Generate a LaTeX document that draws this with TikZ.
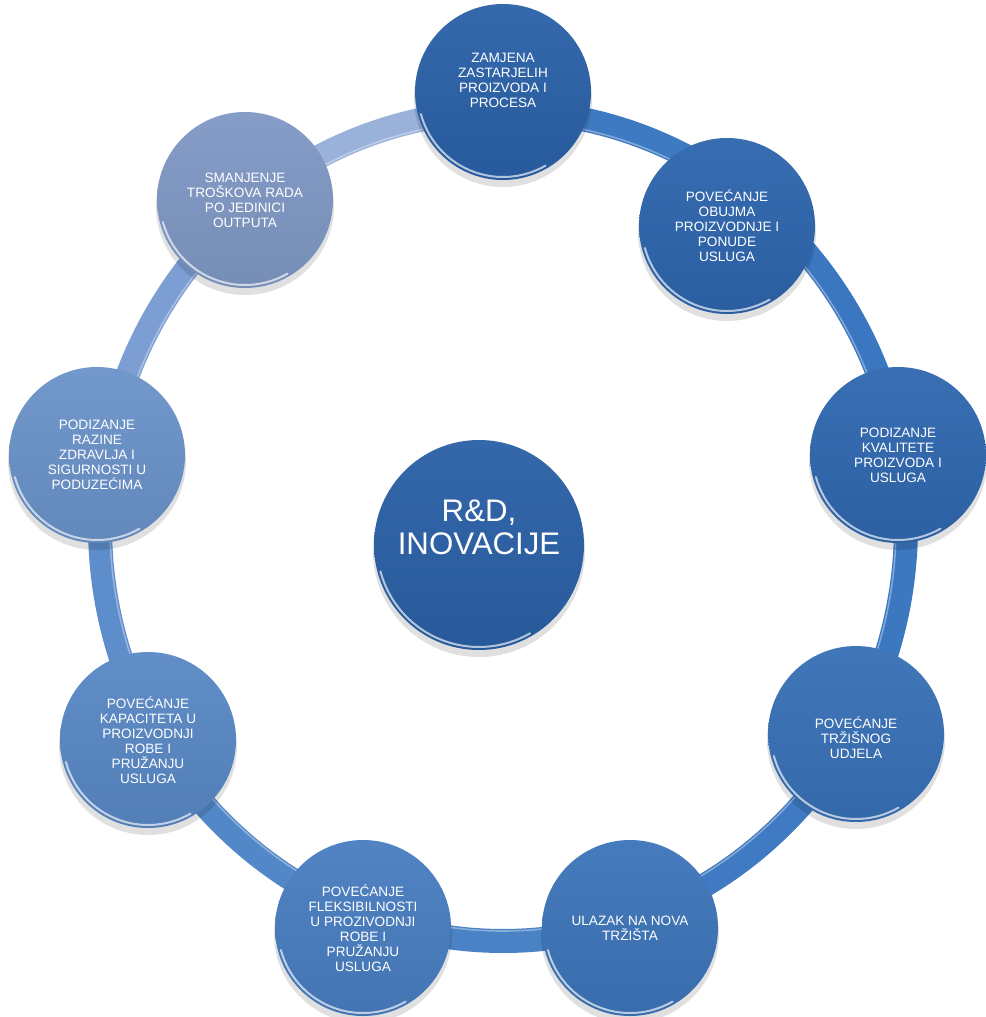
\documentclass[tikz,border=0pt]{standalone}
\usepackage{fontspec}
\setmainfont{Liberation Sans}
\definecolor{c0}{HTML}{2A60A6}
\definecolor{c1}{HTML}{2A61A8}
\definecolor{c2}{HTML}{2D65AD}
\definecolor{c3}{HTML}{2F67AF}
\definecolor{c4}{HTML}{3770B6}
\definecolor{c5}{HTML}{3C74B9}
\definecolor{c6}{HTML}{487DC0}
\definecolor{c7}{HTML}{5988C5}
\definecolor{c8}{HTML}{6A92C9}
\definecolor{c9}{HTML}{7F98C4}
\definecolor{r12}{HTML}{3E7AC2}
\definecolor{r23}{HTML}{3B77C0}
\definecolor{r34}{HTML}{3C78C0}
\definecolor{r45}{HTML}{3F7AC2}
\definecolor{r56}{HTML}{4A82C6}
\definecolor{r67}{HTML}{5287C8}
\definecolor{r78}{HTML}{5E8DCB}
\definecolor{r89}{HTML}{7D9ED2}
\definecolor{r91}{HTML}{9AB2DA}
\tikzset{
  disc/.style={circle, inner sep=0pt, minimum size=88pt, top color=#1!95!white, bottom color=#1!93!black, draw=none},
  sattext/.style={text=white, align=center, font=\fontsize{6.8}{7.5}\selectfont, inner sep=0pt},
  centertext/.style={text=white, align=center, font=\fontsize{15.6}{16.6}\selectfont, inner sep=0pt},
  ringseg/.style={line width=12pt, draw=#1},
  ringgloss/.style={white, opacity=0.35, line width=0.8pt},
  shadowdisc/.style={fill=black, opacity=0.12},
  rim/.style={white, opacity=0.65, line width=1pt, line cap=round},
}
\begin{document}
\begin{tikzpicture}[x=0.5pt, y=-0.5pt]
\useasboundingbox (0,0) rectangle (985,1017);
\fill[white] (0,0) rectangle (985,1017);
\coordinate (O) at (503,526);
\coordinate (p1) at (503,92);
\coordinate (p2) at (727,226);
\coordinate (p3) at (898,455);
\coordinate (p4) at (856,734);
\coordinate (p5) at (630,928);
\coordinate (p6) at (363,928);
\coordinate (p7) at (148,740);
\coordinate (p8) at (97,455);
\coordinate (p9) at (245,200);
\coordinate (p0) at (479,545);
% ring
\foreach \a/\b/\col in {52/90/r12, 9.6/54/r23, -30.6/11.6/r34, -72.5/-28.6/r45, -109.6/-70.5/r56, -150/-107.6/r67, -191.6/-148/r78, -233.6/-189.6/r89, -272/-231.6/r91}{
  \draw[ringseg=\col] ([shift={(\a:201.5pt and 207.5pt)}]O) arc[start angle=\a, end angle=\b, x radius=201.5pt, y radius=207.5pt];
}
\draw[ringgloss] ([shift={(0:196.5pt and 202.5pt)}]O) arc[start angle=0, end angle=360, x radius=196.5pt, y radius=202.5pt];
% shadows
\fill[shadowdisc] ([yshift=-3pt]p0) circle (53pt);
\foreach \i in {1,...,9}{\fill[shadowdisc] ([yshift=-3pt]p\i) circle (44.5pt);}
% discs
\node[disc=c1] (s1) at (p1) {};
\node[disc=c2] (s2) at (p2) {};
\node[disc=c3] (s3) at (p3) {};
\node[disc=c4] (s4) at (p4) {};
\node[disc=c5] (s5) at (p5) {};
\node[disc=c6] (s6) at (p6) {};
\node[disc=c7] (s7) at (p7) {};
\node[disc=c8] (s8) at (p8) {};
\node[disc=c9] (s9) at (p9) {};
\node[disc=c0, minimum size=105pt] (rd) at (p0) {};
% rims
\foreach \n in {s1,s2,s3,s4,s5,s6,s7,s8,s9}{
  \draw[rim] ([shift={(195:42.5pt)}]\n.center) arc[start angle=195, end angle=300, radius=42.5pt];
}
\draw[rim] ([shift={(195:51pt)}]rd.center) arc[start angle=195, end angle=300, radius=51pt];
% texts
\node[sattext] (t1) at ([yshift=6pt]s1.center) {ZAMJENA\\ZASTARJELIH\\PROIZVODA I\\PROCESA};
\node[sattext] (t2) at (s2.center) {POVEĆANJE\\OBUJMA\\PROIZVODNJE I\\PONUDE\\USLUGA};
\node[sattext] (t3) at (s3.center) {PODIZANJE\\KVALITETE\\PROIZVODA I\\USLUGA};
\node[sattext] (t4) at ([yshift=-2pt]s4.center) {POVEĆANJE\\TRŽIŠNOG\\UDJELA};
\node[sattext] (t5) at (s5.center) {ULAZAK NA NOVA\\TRŽIŠTA};
\node[sattext] (t6) at (s6.center) {POVEĆANJE\\FLEKSIBILNOSTI\\U PROZIVODNJI\\ROBE I\\PRUŽANJU\\USLUGA};
\node[sattext] (t7) at (s7.center) {POVEĆANJE\\KAPACITETA U\\PROIZVODNJI\\ROBE I\\PRUŽANJU\\USLUGA};
\node[sattext] (t8) at (s8.center) {PODIZANJE\\RAZINE\\ZDRAVLJA I\\SIGURNOSTI U\\PODUZEĆIMA};
\node[sattext] (t9) at (s9.center) {SMANJENJE\\TROŠKOVA RADA\\PO JEDINICI\\OUTPUTA};
\node[centertext] (tc) at ([yshift=9pt]rd.center) {R\&D,\\INOVACIJE};
\end{tikzpicture}
\end{document}
